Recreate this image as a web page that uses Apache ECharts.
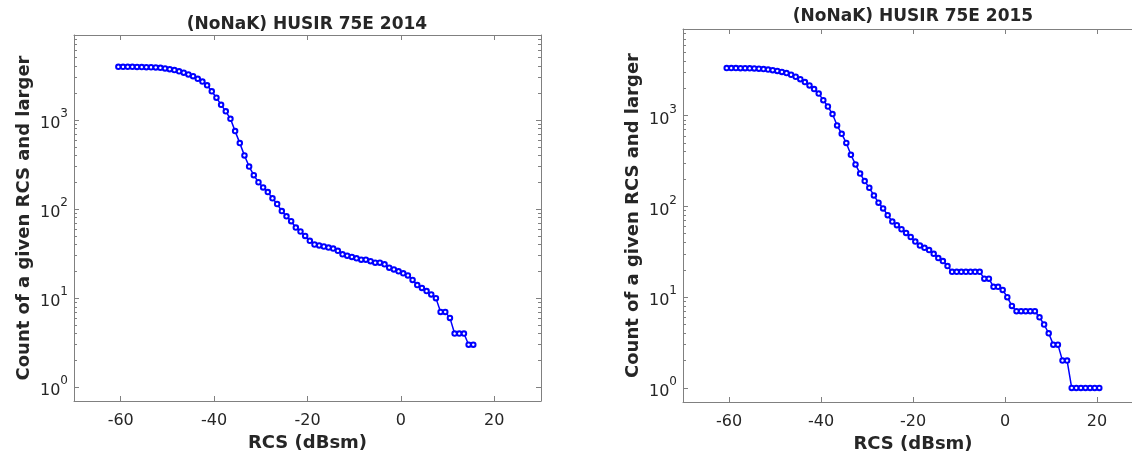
<!DOCTYPE html>
<html>
<head>
<meta charset="utf-8">
<script src="https://cdn.jsdelivr.net/npm/echarts@6/dist/echarts.min.js"></script>
<style>
html,body{margin:0;padding:0;background:#fff;}
#chart{width:1132px;height:457px;}
</style>
</head>
<body>
<div id="chart"></div>
<script>
const title2014 = '(NoNaK) HUSIR 75E 2014';
const title2015 = '(NoNaK) HUSIR 75E 2015';
const xName = 'RCS (dBsm)';
const yName = 'Count of a given RCS and larger';

const xTicks = [-60, -40, -20, 0, 20];
const yMajorTicks = [1, 10, 100, 1000];
const yMinorTicks = [2,3,4,5,6,7,8,9,20,30,40,50,60,70,80,90,200,300,400,500,600,700,800,900,2000,3000,4000,5000,6000,7000,8000,9000];

const rcs2014 = [-60.5,-59.5,-58.5,-57.5,-56.5,-55.5,-54.5,-53.5,-52.5,-51.5,
  -50.5,-49.5,-48.5,-47.5,-46.5,-45.5,-44.5,-43.5,-42.5,-41.5,
  -40.5,-39.5,-38.5,-37.5,-36.5,-35.5,-34.5,-33.5,-32.5,-31.5,
  -30.5,-29.5,-28.5,-27.5,-26.5,-25.5,-24.5,-23.5,-22.5,-21.5,
  -20.5,-19.5,-18.5,-17.5,-16.5,-15.5,-14.5,-13.5,-12.5,-11.5,
  -10.5,-9.5,-8.5,-7.5,-6.5,-5.5,-4.5,-3.5,-2.5,-1.5,
  -0.5,0.5,1.5,2.5,3.5,4.5,5.5,6.5,7.5,8.5,
  9.5,10.5,11.5,12.5,13.5,14.5,15.5];
const count2014 = [3950,3950,3950,3950,3940,3930,3920,3910,3890,3850,
  3790,3720,3630,3520,3400,3250,3100,2900,2700,2450,
  2100,1780,1480,1250,1030,750,550,400,300,240,
  200,175,155,132,114,95,83,73,62,56,
  50,44,40,39,38,37,36,34,31,30,
  29,28,27,27,26,25,25,24,22,21,
  20,19,18,16,14,13,12,11,10,7,
  7,6,4,4,4,3,3];

const rcs2015 = [-60.5,-59.5,-58.5,-57.5,-56.5,-55.5,-54.5,-53.5,-52.5,-51.5,
  -50.5,-49.5,-48.5,-47.5,-46.5,-45.5,-44.5,-43.5,-42.5,-41.5,
  -40.5,-39.5,-38.5,-37.5,-36.5,-35.5,-34.5,-33.5,-32.5,-31.5,
  -30.5,-29.5,-28.5,-27.5,-26.5,-25.5,-24.5,-23.5,-22.5,-21.5,
  -20.5,-19.5,-18.5,-17.5,-16.5,-15.5,-14.5,-13.5,-12.5,-11.5,
  -10.5,-9.5,-8.5,-7.5,-6.5,-5.5,-4.5,-3.5,-2.5,-1.5,
  -0.5,0.5,1.5,2.5,3.5,4.5,5.5,6.5,7.5,8.5,
  9.5,10.5,11.5,12.5,13.5,14.5,15.5,16.5,17.5,18.5,
  19.5,20.5];
const count2015 = [3340,3340,3340,3330,3330,3320,3310,3290,3260,3220,
  3170,3110,3030,2940,2820,2680,2520,2340,2150,1960,
  1750,1480,1260,1040,780,630,500,370,290,230,
  190,160,132,110,95,80,68,62,56,51,
  46,41,37,35,33,30,27,25,22,19,
  19,19,19,19,19,19,16,16,13,13,
  12,10,8,7,7,7,7,7,6,5,
  4,3,3,2,2,1,1,1,1,1,
  1,1];

const FONT = 'DejaVu Sans';
const AXIS_COLOR = '#808080';
const TEXT_COLOR = '#262626';

function supLabel(v) {
  const e = Math.round(Math.log10(v));
  if (Math.abs(Math.pow(10, e) - v) > 1e-9 * v) return '';
  return '{b|10}{s|' + e + '}';
}

function xAxes(gridIndex) {
  return [
    {
      type: 'value', gridIndex, position: 'bottom', min: -70, max: 30,
      name: xName, nameLocation: 'middle', nameGap: 32,
      nameTextStyle: {fontFamily: FONT, fontWeight: 'bold', fontSize: 18, color: TEXT_COLOR},
      axisLine: {show: true, onZero: false, lineStyle: {color: AXIS_COLOR, width: 1}},
      axisTick: {show: true, inside: true, length: 5, customValues: xTicks, lineStyle: {color: AXIS_COLOR}},
      axisLabel: {show: true, customValues: xTicks, margin: 12, fontFamily: FONT, fontSize: 16, color: TEXT_COLOR},
      splitLine: {show: false}
    },
    {
      type: 'value', gridIndex, position: 'top', min: -70, max: 30,
      axisLine: {show: true, onZero: false, lineStyle: {color: AXIS_COLOR, width: 1}},
      axisTick: {show: true, inside: true, length: 5, customValues: xTicks, lineStyle: {color: AXIS_COLOR}},
      axisLabel: {show: false},
      splitLine: {show: false}
    }
  ];
}

function yAxes(gridIndex) {
  const base = {type: 'log', logBase: 10, gridIndex, min: 0.7, max: 9000, splitLine: {show: false}};
  return [
    Object.assign({}, base, {
      position: 'left',
      name: yName, nameLocation: 'middle', nameGap: 41, nameRotate: 90,
      nameTextStyle: {fontFamily: FONT, fontWeight: 'bold', fontSize: 18, color: TEXT_COLOR},
      axisLine: {show: true, onZero: false, lineStyle: {color: AXIS_COLOR, width: 1}},
      axisTick: {show: true, inside: true, length: 5, customValues: yMajorTicks, lineStyle: {color: AXIS_COLOR}},
      axisLabel: {
        show: true, customValues: yMajorTicks, margin: 6, formatter: supLabel,
        rich: {
          b: {fontFamily: FONT, fontSize: 16, color: TEXT_COLOR, lineHeight: 24, verticalAlign: 'bottom'},
          s: {fontFamily: FONT, fontSize: 12, color: TEXT_COLOR, lineHeight: 14, verticalAlign: 'top'}
        }
      }
    }),
    Object.assign({}, base, {
      position: 'right',
      axisLine: {show: true, onZero: false, lineStyle: {color: AXIS_COLOR, width: 1}},
      axisTick: {show: true, inside: true, length: 5, customValues: yMajorTicks, lineStyle: {color: AXIS_COLOR}},
      axisLabel: {show: false}
    }),
    Object.assign({}, base, {
      position: 'left',
      axisLine: {show: false, onZero: false},
      axisTick: {show: true, inside: true, length: 3, customValues: yMinorTicks, lineStyle: {color: AXIS_COLOR}},
      axisLabel: {show: false}
    }),
    Object.assign({}, base, {
      position: 'right',
      axisLine: {show: false, onZero: false},
      axisTick: {show: true, inside: true, length: 3, customValues: yMinorTicks, lineStyle: {color: AXIS_COLOR}},
      axisLabel: {show: false}
    })
  ];
}

function seriesFor(xs, ys, xi, yi) {
  return {
    type: 'line', xAxisIndex: xi, yAxisIndex: yi,
    data: xs.map((x, i) => [x, ys[i]]),
    symbol: 'emptyCircle', symbolSize: 4.5,
    itemStyle: {color: '#0000ff', borderColor: '#0000ff', borderWidth: 1},
    lineStyle: {color: '#0000ff', width: 1.5},
    animation: false, clip: true
  };
}

const chart = echarts.init(document.getElementById('chart'), null, {renderer: 'canvas'});
chart.setOption({
  backgroundColor: '#ffffff',
  animation: false,
  title: [
    {text: title2014, left: 307, top: 15, textAlign: 'center', padding: 0,
     textStyle: {fontFamily: FONT, fontWeight: 'bold', fontSize: 17, color: TEXT_COLOR, lineHeight: 20}},
    {text: title2015, left: 913, top: 7, textAlign: 'center', padding: 0,
     textStyle: {fontFamily: FONT, fontWeight: 'bold', fontSize: 17, color: TEXT_COLOR, lineHeight: 20}}
  ],
  grid: [
    {left: 74, top: 35, width: 467, height: 366, containLabel: false, outerBoundsMode: 'none'},
    {left: 683, top: 29, width: 460, height: 373, containLabel: false, outerBoundsMode: 'none'}
  ],
  xAxis: xAxes(0).concat(xAxes(1)),
  yAxis: yAxes(0).concat(yAxes(1)),
  series: [
    seriesFor(rcs2014, count2014, 0, 0),
    seriesFor(rcs2015, count2015, 2, 4)
  ]
});
</script>
</body>
</html>
